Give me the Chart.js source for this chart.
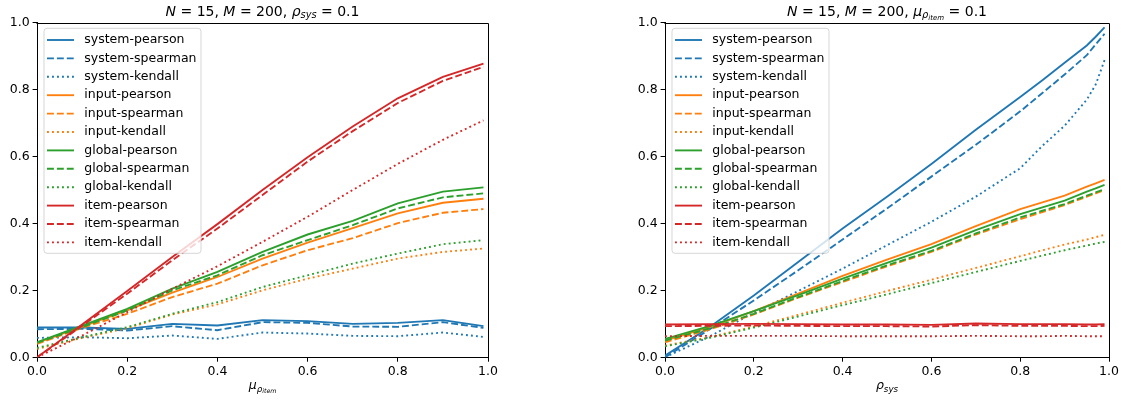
<!DOCTYPE html>
<html>
<head>
<meta charset="utf-8">
<script src="https://cdn.jsdelivr.net/npm/chart.js@4.4.0/dist/chart.umd.min.js"></script>
<style>
  body { margin: 0; background: #fff; }
  #wrap { position: relative; width: 1131px; height: 401px; }
  canvas { position: absolute; top: 0; }
</style>
</head>
<body>
<div id="wrap">
  <canvas id="left" width="520" height="401" style="left:0"></canvas>
  <canvas id="right" width="566" height="401" style="left:565px"></canvas>
</div>
<script>
// series names, same order in both panels
const seriesNames = [
  'system-pearson', 'system-spearman', 'system-kendall',
  'input-pearson', 'input-spearman', 'input-kendall',
  'global-pearson', 'global-spearman', 'global-kendall',
  'item-pearson', 'item-spearman', 'item-kendall'
];
const tickValues = [0, 0.2, 0.4, 0.6, 0.8, 1.0];

// left panel: x = mu_rho_item
const leftX = [0, 0.1, 0.2, 0.3, 0.4, 0.5, 0.6, 0.7, 0.8, 0.9, 0.99];
const leftSystemPearson = [0.089, 0.089, 0.085, 0.100, 0.095, 0.111, 0.108, 0.100, 0.103, 0.111, 0.093];
const leftSystemSpearman = [0.084, 0.085, 0.080, 0.093, 0.081, 0.105, 0.103, 0.092, 0.091, 0.105, 0.088];
const leftSystemKendall = [0.058, 0.060, 0.057, 0.065, 0.055, 0.074, 0.071, 0.064, 0.063, 0.074, 0.061];
const leftInputPearson = [0.043, 0.092, 0.140, 0.193, 0.240, 0.295, 0.343, 0.386, 0.430, 0.462, 0.474];
const leftInputSpearman = [0.040, 0.088, 0.130, 0.180, 0.220, 0.275, 0.320, 0.356, 0.401, 0.432, 0.443];
const leftInputKendall = [0.025, 0.058, 0.087, 0.128, 0.158, 0.200, 0.235, 0.265, 0.295, 0.315, 0.325];
const leftGlobalPearson = [0.045, 0.095, 0.145, 0.205, 0.255, 0.315, 0.367, 0.408, 0.460, 0.495, 0.508];
const leftGlobalSpearman = [0.043, 0.090, 0.140, 0.200, 0.245, 0.305, 0.350, 0.395, 0.445, 0.478, 0.490];
const leftGlobalKendall = [0.028, 0.060, 0.090, 0.130, 0.165, 0.210, 0.245, 0.280, 0.310, 0.338, 0.350];
const leftItemPearson = [0.000, 0.098, 0.198, 0.300, 0.398, 0.500, 0.598, 0.690, 0.774, 0.838, 0.878];
const leftItemSpearman = [0.000, 0.094, 0.190, 0.290, 0.385, 0.485, 0.585, 0.676, 0.760, 0.826, 0.868];
const leftItemKendall = [0.000, 0.065, 0.135, 0.205, 0.272, 0.345, 0.420, 0.500, 0.578, 0.650, 0.708];

// right panel: x = rho_sys
const rightX = [0, 0.1, 0.2, 0.3, 0.4, 0.5, 0.6, 0.7, 0.8, 0.85, 0.9, 0.95, 0.97, 0.99];
const rightSystemPearson = [0.005, 0.090, 0.185, 0.285, 0.385, 0.480, 0.578, 0.680, 0.778, 0.828, 0.880, 0.932, 0.958, 0.986];
const rightSystemSpearman = [0.000, 0.083, 0.170, 0.260, 0.352, 0.445, 0.540, 0.635, 0.735, 0.790, 0.845, 0.903, 0.935, 0.967];
const rightSystemKendall = [0.000, 0.062, 0.133, 0.198, 0.265, 0.335, 0.405, 0.480, 0.565, 0.632, 0.692, 0.770, 0.815, 0.888];
const rightInputPearson = [0.050, 0.090, 0.138, 0.190, 0.243, 0.292, 0.338, 0.392, 0.443, 0.463, 0.483, 0.510, 0.520, 0.530];
const rightInputSpearman = [0.045, 0.083, 0.128, 0.178, 0.225, 0.272, 0.315, 0.367, 0.413, 0.434, 0.455, 0.480, 0.490, 0.500];
const rightInputKendall = [0.035, 0.060, 0.092, 0.127, 0.163, 0.198, 0.232, 0.267, 0.302, 0.320, 0.337, 0.352, 0.359, 0.366];
const rightGlobalPearson = [0.055, 0.093, 0.138, 0.186, 0.235, 0.282, 0.328, 0.380, 0.428, 0.448, 0.468, 0.495, 0.505, 0.515];
const rightGlobalSpearman = [0.050, 0.086, 0.130, 0.180, 0.228, 0.275, 0.318, 0.370, 0.418, 0.438, 0.458, 0.483, 0.493, 0.502];
const rightGlobalKendall = [0.033, 0.058, 0.089, 0.122, 0.156, 0.188, 0.222, 0.255, 0.288, 0.304, 0.320, 0.334, 0.340, 0.345];
const rightItemPearson = [0.098, 0.099, 0.100, 0.099, 0.098, 0.098, 0.097, 0.101, 0.099, 0.099, 0.099, 0.098, 0.098, 0.099];
const rightItemSpearman = [0.093, 0.094, 0.095, 0.094, 0.093, 0.093, 0.092, 0.096, 0.094, 0.094, 0.094, 0.093, 0.093, 0.094];
const rightItemKendall = [0.063, 0.064, 0.064, 0.064, 0.063, 0.063, 0.063, 0.064, 0.063, 0.063, 0.064, 0.063, 0.063, 0.063];

const colors = ['#1f77b4', '#ff7f0e', '#2ca02c', '#d62728'];
const dashes = [[], [6.9, 3], [1.9, 3.1]];
const FONT = '"DejaVu Sans", sans-serif';

Chart.defaults.font.family = FONT;
Chart.defaults.font.size = 12.5;
Chart.defaults.color = '#000';

// draw a string made of pieces (italic / sub / subsub), centred on cx
function drawMath(ctx, parts, cx, baseY, size) {
  let total = 0;
  const items = parts.map(p => {
    const s = size * (p.s || 1);
    const font = (p.i ? 'italic ' : '') + s + 'px ' + FONT;
    ctx.font = font;
    const w = ctx.measureText(p.t).width;
    total += w;
    return { p, font, w };
  });
  let x = cx - total / 2;
  ctx.textAlign = 'left';
  ctx.textBaseline = 'alphabetic';
  ctx.fillStyle = '#000';
  items.forEach(it => {
    ctx.font = it.font;
    ctx.fillText(it.p.t, x, baseY + (it.p.dy || 0) * size);
    x += it.w;
  });
}

const decor = {
  id: 'decor',
  afterDraw(chart) {
    const ctx = chart.ctx, a = chart.chartArea;
    const o = chart.options.plugins.decor;
    ctx.save();
    // top and right spines
    ctx.strokeStyle = '#000';
    ctx.lineWidth = 1;
    ctx.beginPath();
    ctx.moveTo(Math.round(a.left) - 0.5, Math.round(a.top) + 0.5);
    ctx.lineTo(Math.round(a.right) + 0.5, Math.round(a.top) + 0.5);
    ctx.lineTo(Math.round(a.right) + 0.5, Math.round(a.bottom) + 0.5);
    ctx.stroke();

    // legend box in upper left
    const x0 = a.left + 7, y0 = a.top + 5.6;
    ctx.beginPath();
    ctx.roundRect(x0, y0, 157, 225, 3);
    ctx.fillStyle = 'rgba(255,255,255,0.8)';
    ctx.fill();
    ctx.strokeStyle = 'rgba(204,204,204,0.8)';
    ctx.stroke();
    chart.data.datasets.forEach((ds, i) => {
      const y = a.top + 17.3 + i * 18.4;
      ctx.beginPath();
      ctx.setLineDash(ds.borderDash);
      ctx.strokeStyle = ds.borderColor;
      ctx.lineWidth = ds.borderWidth;
      ctx.moveTo(a.left + 10, y);
      ctx.lineTo(a.left + 37, y);
      ctx.stroke();
      ctx.setLineDash([]);
      ctx.fillStyle = '#000';
      ctx.font = '12.5px ' + FONT;
      ctx.textBaseline = 'middle';
      ctx.textAlign = 'left';
      ctx.fillText(ds.label, a.left + 47.3, y);
    });

    const cx = (a.left + a.right) / 2;
    drawMath(ctx, o.title, cx, 15.5, 14);
    drawMath(ctx, o.xlabel, cx, 389, 12.5);
    ctx.restore();
  }
};

function makeChart(id, xs, series, yAxisWidth, rightPad, title, xlabel) {
  const datasets = series.map((ys, i) => ({
    label: seriesNames[i],
    data: xs.map((x, j) => ({ x: x, y: ys[j] })),
    borderColor: colors[Math.floor(i / 3)],
    borderWidth: 1.875,
    borderDash: dashes[i % 3],
    pointRadius: 0,
    fill: false,
    tension: 0,
    order: series.length - i
  }));
  const axis = {
    type: 'linear',
    min: 0,
    max: 1,
    grid: { drawOnChartArea: false, tickLength: 4.4, color: '#000' },
    border: { color: '#000', width: 1 },
    ticks: {
      stepSize: 0.2,
      padding: 3,
      color: '#000',
      callback: v => v.toFixed(1)
    },
    afterBuildTicks: s => { s.ticks = tickValues.map(v => ({ value: v })); }
  };
  return new Chart(document.getElementById(id), {
    type: 'line',
    data: { datasets },
    options: {
      responsive: false,
      animation: false,
      devicePixelRatio: 1,
      layout: { padding: { top: 22.7, right: rightPad, bottom: 0, left: 0 } },
      scales: {
        x: Object.assign({}, axis, { afterFit: s => { s.height = 43.7; } }),
        y: Object.assign({}, axis, { afterFit: s => { s.width = yAxisWidth; } })
      },
      plugins: {
        legend: { display: false },
        tooltip: { enabled: false },
        decor: { title, xlabel }
      }
    },
    plugins: [decor]
  });
}

makeChart('left', leftX, [
  leftSystemPearson, leftSystemSpearman, leftSystemKendall,
  leftInputPearson, leftInputSpearman, leftInputKendall,
  leftGlobalPearson, leftGlobalSpearman, leftGlobalKendall,
  leftItemPearson, leftItemSpearman, leftItemKendall
], 37, 32, [
  { t: 'N', i: 1 }, { t: ' = 15, ' }, { t: 'M', i: 1 }, { t: ' = 200, ' },
  { t: 'ρ', i: 1 }, { t: 'sys', i: 1, s: 0.7, dy: 0.2 }, { t: ' = 0.1' }
], [
  { t: 'μ', i: 1 }, { t: 'ρ', i: 1, s: 0.7, dy: 0.2 }, { t: 'item', i: 1, s: 0.5, dy: 0.32 }
]);

makeChart('right', rightX, [
  rightSystemPearson, rightSystemSpearman, rightSystemKendall,
  rightInputPearson, rightInputSpearman, rightInputKendall,
  rightGlobalPearson, rightGlobalSpearman, rightGlobalKendall,
  rightItemPearson, rightItemSpearman, rightItemKendall
], 100, 22, [
  { t: 'N', i: 1 }, { t: ' = 15, ' }, { t: 'M', i: 1 }, { t: ' = 200, ' },
  { t: 'μ', i: 1 }, { t: 'ρ', i: 1, s: 0.7, dy: 0.2 }, { t: 'item', i: 1, s: 0.5, dy: 0.32 },
  { t: ' = 0.1' }
], [
  { t: 'ρ', i: 1 }, { t: 'sys', i: 1, s: 0.7, dy: 0.2 }
]);
</script>
</body>
</html>
